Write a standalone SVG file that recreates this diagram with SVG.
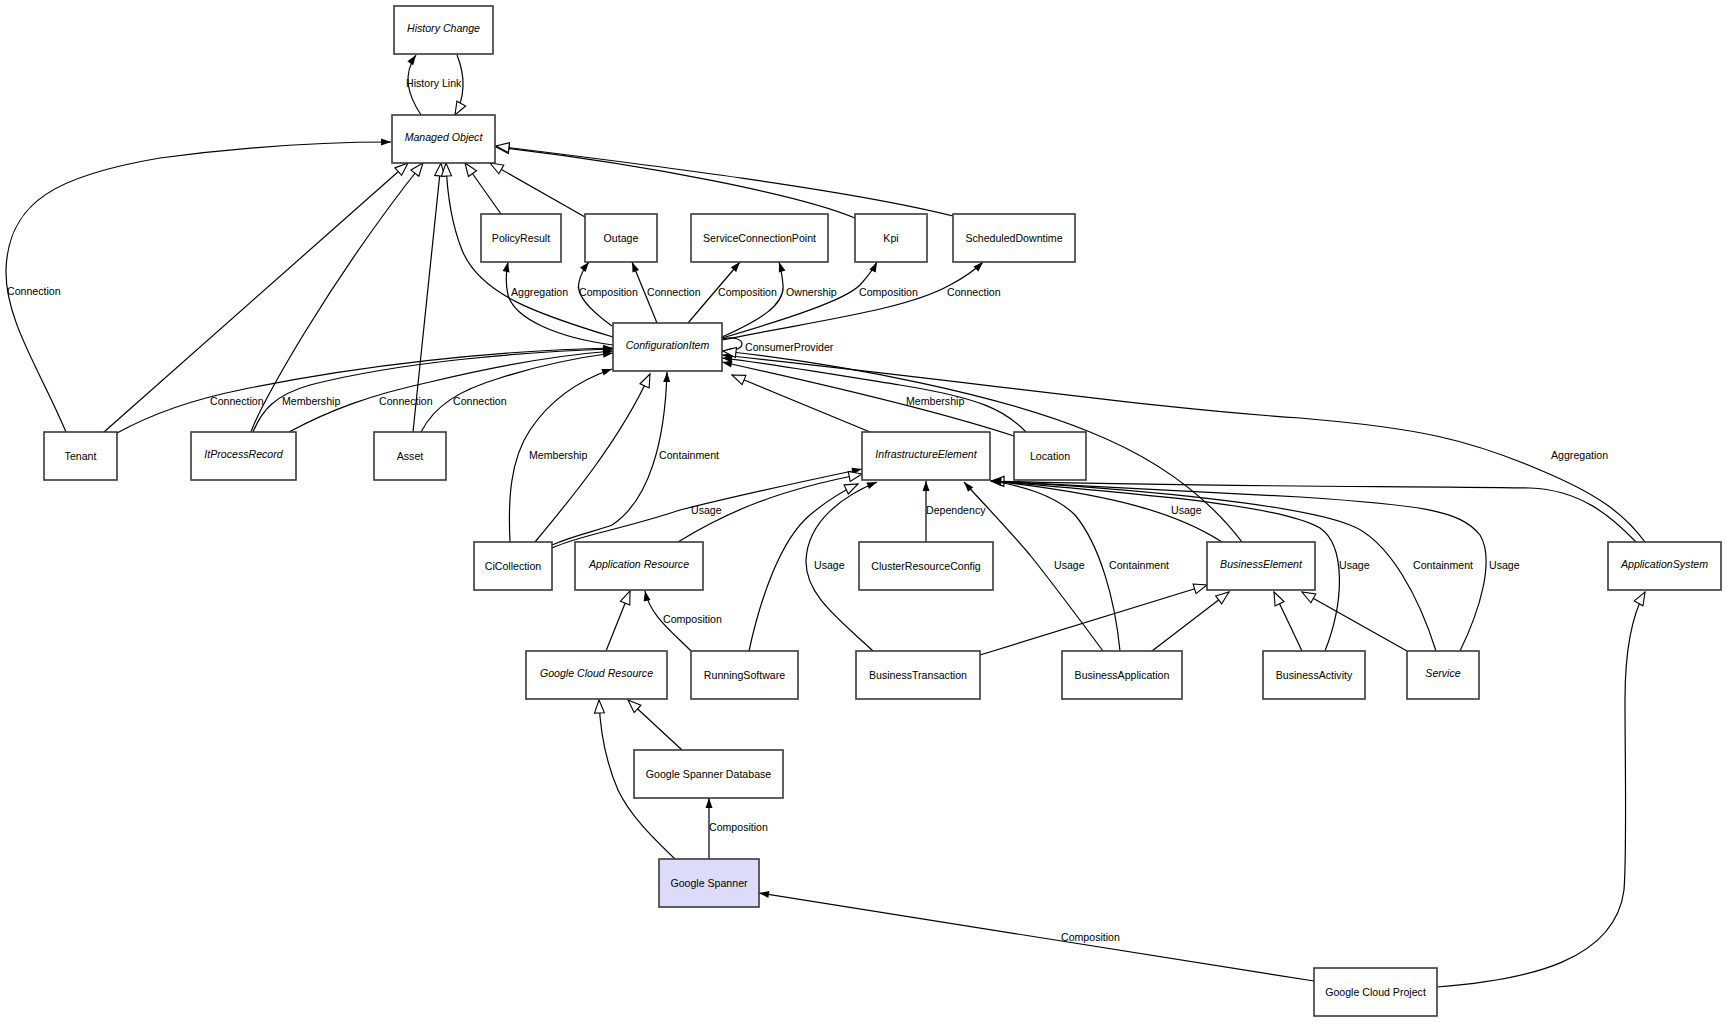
<svg xmlns="http://www.w3.org/2000/svg" width="1727" height="1023" viewBox="0 0 1727 1023">
<defs>
<marker id="fa" markerUnits="userSpaceOnUse" markerWidth="11" markerHeight="8" refX="10" refY="3.5" orient="auto" overflow="visible"><path d="M0,0 L10,3.5 L0,7 z" fill="#000"/></marker>
<marker id="ha" markerUnits="userSpaceOnUse" markerWidth="15" markerHeight="12" refX="13" refY="5" orient="auto" overflow="visible"><path d="M0,0 L13,5 L0,10 z" fill="#fff" stroke="#000" stroke-width="1.1"/></marker>
</defs>
<style>
.n rect{fill:#fff;stroke:#3a3a3a;stroke-width:1.6}
.n text{font-family:"Liberation Sans",Arial,sans-serif;font-size:10.6px;text-anchor:middle;fill:#000}
.n text.i{font-style:italic}
.e path{fill:none;stroke:#000;stroke-width:1.2}
.a{marker-end:url(#fa)}
.h{marker-end:url(#ha)}
.l text{font-family:"Liberation Sans",Arial,sans-serif;font-size:10.6px;fill:#000}
</style>
<rect width="1727" height="1023" fill="#fff"/>
<g class="e" id="connectors">
<path class="a" d="M421,115 C408,95 402,75 416,55"/>
<path class="h" d="M457,55 C465,75 466,95 455,115"/>
<path class="a" d="M66,432 C40,370 5,320 6,270 C8,200 60,175 160,158 C250,146 330,142 391,142"/>
<path class="h" d="M104,432 L408,163"/>
<path class="h" d="M251,432 C260,405 330,280 423,163"/>
<path class="h" d="M413,432 L441,163"/>
<path class="h" d="M613,337 C540,315 480,295 462,250 C450,220 447,190 446,163"/>
<path class="h" d="M501,214 L465,163"/>
<path class="h" d="M585,217 L490,163"/>
<path class="h" d="M855,218 C800,195 650,165 496,147"/>
<path class="h" d="M953,216 C850,190 650,165 496,146"/>
<path class="a" d="M613,345 C560,338 515,320 508,295 C505,282 506,272 508,262"/>
<path class="a" d="M612,326 C590,310 575,295 579,282 C581,273 585,267 589,262"/>
<path class="a" d="M657,323 L632,262"/>
<path class="a" d="M688,323 L740,262"/>
<path class="a" d="M722,337 C760,320 785,305 783,285 C782,275 781,268 779,262"/>
<path class="a" d="M722,338 C790,318 845,300 860,285 C868,276 873,270 877,262"/>
<path class="a" d="M722,340 C820,320 905,310 950,285 C965,277 975,270 983,262"/>
<path class="a" d="M722,339 C745,333 752,352 722,351"/>
<path class="a" d="M117,433 C150,415 190,400 240,390 C360,365 500,350 613,348"/>
<path class="a" d="M253,432 C262,410 275,395 310,385 C400,362 520,352 613,349"/>
<path class="a" d="M289,432 C330,410 370,395 430,382 C500,365 560,355 613,351"/>
<path class="a" d="M421,432 C435,405 460,390 500,378 C550,362 590,356 613,353"/>
<path class="a" d="M510,542 C508,500 510,460 530,430 C550,400 580,380 612,369"/>
<path class="h" d="M535,542 C570,500 620,440 650,374"/>
<path class="a" d="M552,545 C575,535 600,530 612,525 C650,500 665,440 667,372"/>
<path class="a" d="M552,548 C580,535 620,530 680,510 C740,495 800,482 862,469"/>
<path class="h" d="M678,542 C730,510 780,490 862,474"/>
<path class="h" d="M870,432 L732,375"/>
<path class="a" d="M1014,436 C950,415 850,390 722,362"/>
<path class="a" d="M1026,432 C1005,410 980,398 900,385 C820,372 760,362 722,358"/>
<path class="a" d="M1645,542 C1625,515 1600,495 1540,470 C1470,440 1420,428 1300,418 C1150,408 1000,385 722,355"/>
<path class="h" d="M1242,542 C1210,500 1160,460 1090,432 C1000,395 850,365 723,351"/>
<path class="a" d="M1222,542 C1180,515 1120,495 991,481"/>
<path class="h" d="M1636,542 C1610,515 1580,490 1530,488 C1400,486 1200,487 991,481"/>
<path class="a" d="M1325,651 C1345,600 1345,545 1320,528 C1280,505 1150,495 991,481"/>
<path class="a" d="M1436,651 C1420,600 1390,540 1350,525 C1300,505 1150,490 991,481"/>
<path class="a" d="M1460,651 C1480,610 1495,560 1480,535 C1460,510 1420,505 1300,497 C1150,490 1050,485 991,481"/>
<path class="a" d="M1103,651 C1080,620 1050,580 1030,555 C1000,520 980,500 964,482"/>
<path class="a" d="M1120,651 C1115,600 1100,545 1075,515 C1055,495 1020,485 991,481"/>
<path class="a" d="M873,651 C840,620 805,595 806,560 C808,520 845,495 877,482"/>
<path class="h" d="M749,651 C760,600 780,540 810,515 C830,498 845,490 858,484"/>
<path class="a" d="M926,542 L926,481"/>
<path class="a" d="M691,651 C670,630 650,615 645,591"/>
<path class="h" d="M606,651 L630,591"/>
<path class="h" d="M980,655 L1207,585"/>
<path class="h" d="M1152,651 L1229,592"/>
<path class="h" d="M1302,651 L1274,592"/>
<path class="h" d="M1407,651 L1302,592"/>
<path class="h" d="M682,750 L628,700"/>
<path class="h" d="M675,859 C650,835 630,815 618,790 C605,760 600,730 599,700"/>
<path class="a" d="M709,859 L709,798"/>
<path class="a" d="M1314,981 L759,893"/>
<path class="h" d="M1437,987 C1530,980 1615,960 1624,890 C1627,850 1625,760 1625,700 C1625,650 1632,615 1645,592"/>
</g>
<g class="l" id="edge-labels">
<text x="406" y="87">History Link</text>
<text x="7" y="295">Connection</text>
<text x="511" y="295.5">Aggregation</text>
<text x="579" y="295.5">Composition</text>
<text x="647" y="295.5">Connection</text>
<text x="718" y="295.5">Composition</text>
<text x="786" y="295.5">Ownership</text>
<text x="859" y="295.5">Composition</text>
<text x="947" y="295.5">Connection</text>
<text x="745" y="350.5">ConsumerProvider</text>
<text x="210" y="405">Connection</text>
<text x="282" y="405">Membership</text>
<text x="379" y="405">Connection</text>
<text x="453" y="405">Connection</text>
<text x="906" y="405">Membership</text>
<text x="529" y="459">Membership</text>
<text x="659" y="459">Containment</text>
<text x="1551" y="459">Aggregation</text>
<text x="691" y="514">Usage</text>
<text x="926" y="514">Dependency</text>
<text x="1171" y="514">Usage</text>
<text x="814" y="569">Usage</text>
<text x="1054" y="569">Usage</text>
<text x="1109" y="569">Containment</text>
<text x="1339" y="569">Usage</text>
<text x="1413" y="569">Containment</text>
<text x="1489" y="569">Usage</text>
<text x="663" y="623">Composition</text>
<text x="709" y="831">Composition</text>
<text x="1061" y="941">Composition</text>
</g>
<g class="n" id="HistoryChange"><rect x="394" y="6" width="99" height="48"/><text class="i" x="443.5" y="32">History Change</text></g>
<g class="n" id="ManagedObject"><rect x="392" y="115" width="103" height="48"/><text class="i" x="443.5" y="141">Managed Object</text></g>
<g class="n" id="PolicyResult"><rect x="481" y="214" width="80" height="48"/><text x="521" y="242">PolicyResult</text></g>
<g class="n" id="Outage"><rect x="585" y="214" width="72" height="48"/><text x="621" y="242">Outage</text></g>
<g class="n" id="ServiceConnectionPoint"><rect x="691" y="214" width="137" height="48"/><text x="759.5" y="242">ServiceConnectionPoint</text></g>
<g class="n" id="Kpi"><rect x="855" y="214" width="72" height="48"/><text x="891" y="242">Kpi</text></g>
<g class="n" id="ScheduledDowntime"><rect x="953" y="214" width="122" height="48"/><text x="1014" y="242">ScheduledDowntime</text></g>
<g class="n" id="ConfigurationItem"><rect x="613" y="323" width="109" height="48"/><text class="i" x="667.5" y="349">ConfigurationItem</text></g>
<g class="n" id="Tenant"><rect x="44" y="432" width="73" height="48"/><text x="80.5" y="460">Tenant</text></g>
<g class="n" id="ItProcessRecord"><rect x="191" y="432" width="105" height="48"/><text class="i" x="243.5" y="458">ItProcessRecord</text></g>
<g class="n" id="Asset"><rect x="374" y="432" width="72" height="48"/><text x="410" y="460">Asset</text></g>
<g class="n" id="InfrastructureElement"><rect x="862" y="432" width="128" height="48"/><text class="i" x="926" y="458">InfrastructureElement</text></g>
<g class="n" id="Location"><rect x="1014" y="432" width="72" height="48"/><text x="1050" y="460">Location</text></g>
<g class="n" id="CiCollection"><rect x="474" y="542" width="78" height="48"/><text x="513" y="570">CiCollection</text></g>
<g class="n" id="ApplicationResource"><rect x="575" y="542" width="128" height="48"/><text class="i" x="639" y="568">Application Resource</text></g>
<g class="n" id="ClusterResourceConfig"><rect x="859" y="542" width="134" height="48"/><text x="926" y="570">ClusterResourceConfig</text></g>
<g class="n" id="BusinessElement"><rect x="1207" y="542" width="108" height="48"/><text class="i" x="1261" y="568">BusinessElement</text></g>
<g class="n" id="ApplicationSystem"><rect x="1608" y="542" width="113" height="48"/><text class="i" x="1664.5" y="568">ApplicationSystem</text></g>
<g class="n" id="GoogleCloudResource"><rect x="526" y="651" width="141" height="48"/><text class="i" x="596.5" y="677">Google Cloud Resource</text></g>
<g class="n" id="RunningSoftware"><rect x="691" y="651" width="107" height="48"/><text x="744.5" y="679">RunningSoftware</text></g>
<g class="n" id="BusinessTransaction"><rect x="856" y="651" width="124" height="48"/><text x="918" y="679">BusinessTransaction</text></g>
<g class="n" id="BusinessApplication"><rect x="1062" y="651" width="120" height="48"/><text x="1122" y="679">BusinessApplication</text></g>
<g class="n" id="BusinessActivity"><rect x="1263" y="651" width="102" height="48"/><text x="1314" y="679">BusinessActivity</text></g>
<g class="n" id="Service"><rect x="1407" y="651" width="72" height="48"/><text class="i" x="1443" y="677">Service</text></g>
<g class="n" id="GoogleSpannerDatabase"><rect x="634" y="750" width="149" height="48"/><text x="708.5" y="778">Google Spanner Database</text></g>
<g class="n" id="GoogleSpanner"><rect x="659" y="859" width="100" height="48" style="fill:#dcdcfa"/><text x="709" y="887">Google Spanner</text></g>
<g class="n" id="GoogleCloudProject"><rect x="1314" y="968" width="123" height="48"/><text x="1375.5" y="996">Google Cloud Project</text></g>
</svg>
